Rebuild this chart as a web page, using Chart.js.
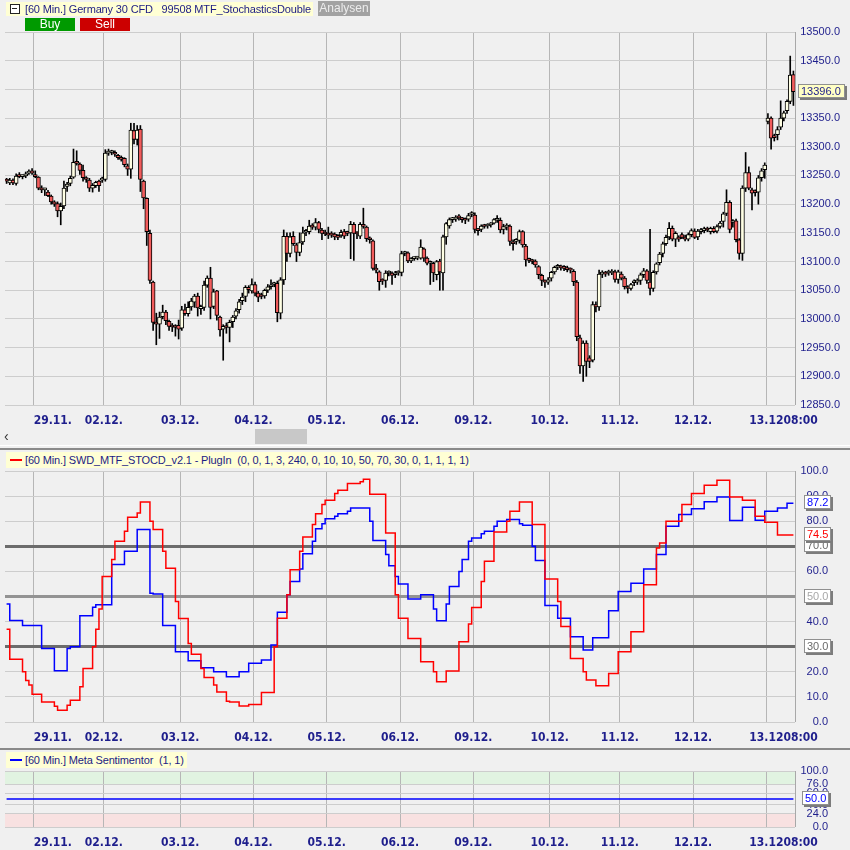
<!DOCTYPE html>
<html>
<head>
<meta charset="utf-8">
<script src="https://cdn.jsdelivr.net/npm/chart.js@4.4.1/dist/chart.umd.min.js"></script>
<style>
  body { margin:0; width:850px; height:850px; background:#f0f0f0; overflow:hidden;
         font-family:"Liberation Sans", Arial, sans-serif; }
  canvas { position:absolute; left:0; }
  .tag { position:absolute; background:#ffffd4; color:#1c1c84; font-size:11px; letter-spacing:-0.15px; white-space:pre; }
  .btn { position:absolute; font-size:12px; text-align:center; color:#fff; }
  .sep { position:absolute; left:0; width:850px; }
</style>
</head>
<body>
<canvas id="priceChart" width="850" height="450" style="top:0"></canvas>
<canvas id="stochChart" width="850" height="300" style="top:450px"></canvas>
<canvas id="metaChart" width="850" height="100" style="top:750px"></canvas>

<!-- header of the price panel -->
<div class="tag" style="left:6px;top:2px;width:307px;height:14px;line-height:14px"></div>
<div style="position:absolute;left:10px;top:4px;width:8px;height:8px;border:1px solid #222;background:#fff"></div>
<div style="position:absolute;left:12px;top:8px;width:5px;height:1px;background:#222"></div>
<div class="tag" style="left:25px;top:2px;height:14px;line-height:14px">[60 Min.] Germany 30 CFD   99508 MTF_StochasticsDouble</div>
<div class="btn" style="left:318px;top:1px;width:52px;height:15px;line-height:15px;background:#a2a2a2;color:#ececec">Analysen</div>
<div class="btn" style="left:25px;top:18px;width:50px;height:13px;line-height:13px;background:#009a00">Buy</div>
<div class="btn" style="left:80px;top:18px;width:50px;height:13px;line-height:13px;background:#cc0000">Sell</div>

<!-- scrollbar + separators -->
<div style="position:absolute;left:4px;top:428px;font-size:14px;color:#333">&#8249;</div>
<div style="position:absolute;left:255px;top:429px;width:52px;height:15px;background:#c8c8c8"></div>
<div class="sep" style="top:445px;height:1px;background:#ffffff"></div>
<div class="sep" style="top:448px;height:2px;background:#8a8a8a"></div>
<div class="sep" style="top:748px;height:2px;background:#8a8a8a"></div>

<!-- header of the stochastic panel -->
<div class="tag" style="left:6px;top:452px;width:464px;height:16px;line-height:16px"></div>
<div style="position:absolute;left:10px;top:459px;width:12px;height:2px;background:#ff0000"></div>
<div class="tag" style="left:25px;top:452px;height:16px;line-height:16px">[60 Min.] SWD_MTF_STOCD_v2.1 - PlugIn  (0, 0, 1, 3, 240, 0, 10, 10, 50, 70, 30, 0, 1, 1, 1, 1)</div>

<!-- header of the sentiment panel -->
<div class="tag" style="left:6px;top:752px;width:181px;height:16px;line-height:16px"></div>
<div style="position:absolute;left:10px;top:759px;width:12px;height:2px;background:#0000ff"></div>
<div class="tag" style="left:25px;top:752px;height:16px;line-height:16px">[60 Min.] Meta Sentimentor  (1, 1)</div>

<script>
// ---- time axis ----
const days = ['28.11.', '29.11.', '02.12.', '03.12.', '04.12.', '05.12.', '06.12.', '09.12.', '10.12.', '11.12.', '12.12.', '13.12.'];
const candlesPerDay = [9, 22, 24, 23, 23, 23, 23, 24, 22, 23, 23, 9];
const lastHourOfDay = [22, 22, 22, 22, 22, 22, 22, 22, 22, 22, 22, 8];
const lastTime = '08:00';

// ---- Germany 30 CFD, 60 min candles ----
const opens = [
  13243,13237,13242,13236,13249,13248,13249,13254,13258,
  13251,13247,13228,13225,13221,13214,13204,13201,13188,13197,13231,13236,13247,13273,13270,13259,13246,13242,13228,13232,13240,13242,
  13243,13289,13290,13290,13285,13281,13280,13267,13261,13328,13313,13331,13240,13210,13149,13064,12994,12991,13004,13012,12996,12987,12987,12989,
  12984,13016,13009,13021,13029,13040,13018,13020,13059,13071,13022,13049,13003,12982,12986,12985,12995,13005,13016,13032,13039,13055,13049,
  13060,13045,13041,13040,13050,13056,13060,13062,13010,13068,13144,13114,13144,13129,13116,13134,13151,13152,13162,13160,13168,13155,13150,
  13149,13148,13148,13144,13146,13152,13150,13150,13165,13150,13144,13165,13160,13140,13136,13088,13082,13067,13067,13080,13080,13077,13080,
  13081,13114,13115,13101,13105,13106,13106,13122,13106,13097,13097,13077,13101,13080,13143,13162,13173,13174,13177,13174,13173,13174,13182,
  13181,13156,13156,13162,13162,13164,13167,13172,13172,13156,13160,13162,13134,13135,13137,13152,13127,13103,13101,13101,13091,13076,13066,13064,
  13071,13082,13090,13091,13090,13087,13086,13083,13064,12967,12918,12958,12932,12928,13025,13021,13078,13080,13080,13080,13082,13069,
  13078,13071,13056,13053,13063,13064,13067,13077,13084,13064,13053,13082,13098,13114,13131,13143,13158,13139,13141,13147,13142,13139,13147,
  13153,13143,13152,13154,13157,13152,13158,13153,13161,13170,13184,13203,13168,13171,13138,13114,13228,13255,13225,13222,13221,13246,13260,
  13344,13350,13319,13321,13334,13350,13363,13379,13426
];
const highs = [
  13245,13245,13244,13253,13255,13251,13256,13260,13262,
  13258,13248,13232,13228,13224,13216,13206,13204,13202,13240,13238,13249,13296,13293,13272,13268,13248,13245,13236,13240,13242,13247,
  13295,13296,13294,13293,13287,13284,13281,13270,13341,13341,13337,13337,13242,13211,13155,13066,13010,13012,13024,13015,12998,12992,12990,12998,
  13022,13026,13030,13036,13043,13045,13024,13066,13075,13090,13052,13050,13005,12990,12993,12998,13006,13018,13034,13045,13058,13058,13070,
  13064,13048,13045,13052,13060,13068,13064,13066,13072,13155,13150,13150,13152,13132,13150,13160,13156,13172,13166,13175,13170,13158,13155,
  13160,13152,13150,13147,13155,13156,13153,13170,13168,13152,13168,13193,13162,13143,13138,13095,13084,13070,13084,13084,13082,13083,13084,
  13118,13118,13117,13107,13108,13109,13138,13124,13108,13101,13099,13102,13104,13146,13168,13176,13177,13180,13182,13177,13176,13184,13187,
  13185,13158,13164,13165,13166,13168,13175,13180,13176,13165,13166,13164,13138,13140,13155,13154,13130,13106,13104,13103,13093,13078,13068,13072,
  13083,13092,13095,13094,13093,13092,13089,13086,13067,12972,12962,12962,12936,13030,13030,13085,13084,13083,13085,13086,13085,13085,
  13082,13074,13058,13062,13068,13070,13080,13088,13086,13156,13084,13098,13116,13134,13146,13168,13162,13152,13145,13150,13146,13150,13157,
  13157,13156,13158,13160,13160,13160,13161,13164,13170,13186,13225,13206,13173,13174,13140,13232,13290,13265,13228,13225,13250,13262,13272,
  13358,13352,13322,13335,13380,13362,13382,13458,13432
];
const lows = [
  13236,13234,13234,13233,13246,13244,13246,13252,13252,
  13246,13225,13220,13215,13213,13200,13196,13178,13164,13192,13222,13232,13245,13268,13252,13240,13238,13222,13221,13229,13222,13238,
  13240,13285,13286,13283,13278,13275,13265,13250,13245,13305,13303,13222,13192,13128,13062,12980,12955,12966,13000,12990,12980,12978,12970,12965,
  12980,13006,13005,13015,13020,13005,13008,13015,13055,13000,13018,12998,12970,12928,12975,12960,12985,13000,13010,13025,13030,13045,13045,
  13040,13030,13035,13036,13046,13052,13056,12995,13000,13060,13100,13108,13128,13100,13110,13130,13145,13148,13156,13155,13150,13138,13145,
  13140,13142,13138,13138,13142,13140,13145,13105,13102,13140,13140,13158,13135,13132,13085,13080,13050,13060,13055,13075,13060,13072,13076,
  13075,13110,13098,13098,13102,13103,13104,13100,13094,13060,13065,13068,13050,13050,13130,13158,13168,13170,13172,13168,13166,13170,13178,
  13150,13146,13152,13158,13158,13160,13165,13168,13150,13148,13155,13128,13120,13130,13132,13125,13092,13098,13096,13090,13070,13058,13055,13060,
  13066,13078,13086,13085,13084,13082,13080,13058,12962,12905,12891,12900,12915,12925,13012,13015,13072,13074,13076,13077,13064,13062,
  13068,13052,13045,13050,13058,13060,13060,13072,13062,13042,13048,13078,13094,13108,13128,13138,13136,13126,13135,13140,13136,13136,13143,
  13140,13138,13148,13150,13152,13148,13150,13150,13158,13160,13180,13150,13160,13134,13104,13102,13222,13225,13190,13214,13200,13240,13245,
  13340,13296,13310,13312,13330,13345,13358,13375,13372
];
const closes = [
  13240,13242,13237,13249,13248,13249,13253,13257,13254,
  13248,13228,13225,13225,13215,13204,13200,13188,13196,13228,13235,13245,13273,13271,13259,13246,13243,13228,13233,13238,13232,13244,
  13289,13290,13291,13287,13281,13278,13269,13261,13329,13313,13329,13243,13211,13152,13067,12994,12991,13003,13012,12997,12987,12986,12985,12982,
  13016,13009,13020,13031,13040,13019,13022,13059,13071,13020,13047,13006,12981,12987,12985,12994,13003,13014,13030,13038,13055,13051,13060,
  13045,13038,13039,13050,13056,13057,13061,13011,13068,13144,13114,13143,13131,13116,13133,13150,13152,13162,13160,13168,13156,13149,13148,
  13146,13146,13143,13142,13151,13144,13149,13165,13149,13148,13165,13161,13140,13138,13088,13085,13065,13066,13080,13081,13076,13080,13081,
  13114,13116,13101,13105,13106,13107,13125,13106,13097,13098,13080,13100,13082,13143,13166,13173,13174,13177,13176,13173,13172,13180,13183,
  13156,13154,13162,13161,13162,13167,13173,13174,13155,13161,13162,13135,13131,13137,13152,13129,13103,13102,13100,13094,13077,13067,13064,13068,
  13081,13090,13092,13089,13088,13086,13085,13065,12969,12918,12958,12926,12926,13025,13021,13078,13080,13078,13081,13082,13069,13082,
  13071,13056,13053,13060,13065,13067,13077,13084,13067,13053,13081,13096,13113,13131,13142,13158,13139,13149,13139,13142,13139,13147,13154,
  13142,13153,13155,13157,13155,13158,13152,13161,13167,13183,13203,13156,13171,13138,13114,13228,13255,13228,13219,13220,13246,13258,13268,
  13350,13315,13316,13330,13350,13359,13379,13425,13396
];
const priceTicks = [12850,12900,12950,13000,13050,13100,13150,13200,13250,13300,13350,13400,13450,13500];

// ---- SWD_MTF_STOCD: [candle index where the step starts, value] ----
const stochRed = [[0,37],[1,25],[5,20],[6,16.5],[7,14.7],[8,11.1],[11,8],[15,6.3],[16,4.7],[19,6.7],[20,8.7],[23,14],[24,21.3],
  [27,30],[28,37],[29,45],[30,58],[33,64.7],[34,72],[37,76],[38,81.6],[41,83.3],[42,87.6],[45,80],[46,76.7],[49,68],[50,61.3],
  [53,48],[54,41.2],[57,31.3],[58,27],[61,21.3],[62,17.7],[65,14.7],[66,12],[69,8.3],[70,8],[73,6.4],[76,7],[80,11.8],
  [84,30],[85,41.3],[88,50.7],[89,60.7],[92,68],[93,73.7],[96,78.7],[97,83],[99,86.7],[100,88.3],[103,91],[104,92.3],[107,95],
  [111,95.7],[112,96.7],[114,90.7],[119,75.3],[122,50.7],[123,41.3],[126,33.3],[130,24],[134,20],[135,16],[138,20.3],[142,32],
  [145,39],[146,45.6],[149,56],[150,64],[153,75.7],[157,80],[158,84],[161,87.6],[165,78.7],[169,57],[173,48],[174,38],[177,25.3],
  [181,20],[182,16.7],[185,14.4],[189,19.3],[192,28],[196,36],[200,54.7],[204,69.3],[205,71.3],[207,80],[212,86.7],[215,91],
  [219,94.3],[223,96.3],[227,89.6],[231,88.3],[235,82],[238,79.6],[242,74.5],[247,74.5]];
const stochBlue = [[0,47],[1,40.4],[5,38.4],[11,29.3],[15,20.4],[19,29.3],[20,30],[23,42.3],[27,45.7],[28,46.7],[33,62.7],[37,68],
  [41,76.7],[45,51.3],[46,51],[49,38.4],[53,28],[57,24.4],[61,21.6],[65,20],[69,18],[73,20],[76,23.4],[80,24.7],[83,30.7],[85,43.7],
  [88,50.7],[89,56],[92,61],[93,67],[96,72],[97,77],[99,79],[100,81],[103,82],[104,83],[107,84],[108,85.3],[114,80],[115,72.3],
  [119,66.7],[120,62.3],[122,58],[123,55],[126,49],[130,50.7],[134,45],[135,40.3],[138,47],[139,54],[142,60],[143,64.7],[145,72],
  [146,73.3],[149,75],[150,76],[153,78],[154,80],[157,80.7],[161,79],[162,78.4],[165,70],[166,64.3],[169,46.4],[173,41.3],[177,34],
  [181,28.7],[184,33.6],[189,44.3],[192,52],[196,55.3],[200,61],[204,66.7],[207,78],[211,82.7],[215,85],[219,87.7],[223,89.6],
  [227,80.3],[231,85.6],[235,80.4],[238,84],[242,85.3],[245,87.2],[247,87.2]];
const stochTicks = [0,10,20,30,40,50,60,70,80,90,100];
const stochLevels = [30, 50, 70];

// ---- Meta Sentimentor ----
const sentiment = [[0,50],[247,50]];
const metaTicks = [0,24,40,60,76,100];
const metaBands = [[76,100,'#e1f3e1'],[0,24,'#f8e1e1']];

// build the hourly categories
const labels = [], dayStarts = [];
days.forEach((d, k) => {
  dayStarts.push(labels.length);
  for (let j = 0; j < candlesPerDay[k]; j++) {
    const h = (lastHourOfDay[k] - (candlesPerDay[k] - 1 - j) + 24) % 24;
    labels.push(d + ' ' + String(h).padStart(2, '0') + ':00');
  }
});
const N = labels.length;
if ([opens, highs, lows, closes].some(a => a.length !== N)) {
  throw new Error('length mismatch ' + [opens.length, highs.length, lows.length, closes.length, N]);
}

const NAVY = '#1e1e8c';
const FONT_Y = '11px "Liberation Sans", Arial, sans-serif';
const FONT_X = 'bold 12px "Liberation Sans Narrow", "DejaVu Sans Condensed", sans-serif';

function xScale() {
  return {
    type: 'linear', min: -0.5, max: N - 0.5, offset: false,
    afterBuildTicks: s => { s.ticks = dayStarts.slice(1).map(v => ({value: v - 0.5})); },
    ticks: {display: false},
    grid: {color: '#b6b6b6', drawTicks: false, offset: false},
    border: {display: false}
  };
}

function yScale(min, max, values, gridOpts) {
  return {
    type: 'linear', position: 'right', min: min, max: max, beginAtZero: false,
    afterBuildTicks: s => { s.ticks = values.map(v => ({value: v})); },
    ticks: {display: false},
    grid: Object.assign({color: '#cdcdcd', drawTicks: false}, gridOpts || {}),
    border: {display: false}
  };
}

function drawDayLabels(chart, yPos) {
  const ctx = chart.ctx, xs = chart.scales.x;
  ctx.save();
  ctx.font = FONT_X; ctx.fillStyle = NAVY; ctx.textBaseline = 'middle';
  for (let d = 1; d < days.length; d++) {
    const px = xs.getPixelForValue(dayStarts[d] - 0.5);
    if (d === 1) {
      ctx.textAlign = 'left'; ctx.fillText(days[d], px, yPos);
    } else if (d === days.length - 1) {
      const t = days[d].slice(0, -1);
      ctx.textAlign = 'center'; ctx.fillText(t, px, yPos);
      ctx.textAlign = 'left'; ctx.fillText(lastTime, px + ctx.measureText(t).width / 2, yPos);
    } else {
      ctx.textAlign = 'center'; ctx.fillText(days[d], px, yPos);
    }
  }
  ctx.restore();
}

function drawYLabels(chart, values, xRight) {
  const ctx = chart.ctx, ys = chart.scales.y;
  ctx.save();
  ctx.font = FONT_Y; ctx.fillStyle = NAVY; ctx.textAlign = 'right'; ctx.textBaseline = 'middle';
  values.forEach(v => ctx.fillText(v.toFixed(1), xRight, ys.getPixelForValue(v)));
  ctx.restore();
}

function drawBox(chart, xLeft, value, textColor, fill, minW) {
  const ctx = chart.ctx, y = chart.scales.y.getPixelForValue(value);
  const text = value.toFixed(1);
  ctx.save();
  ctx.font = FONT_Y;
  const w = Math.max(minW || 0, Math.round(ctx.measureText(text).width) + 6), h = 14, top = Math.round(y - 8);
  ctx.fillStyle = '#7c7c7c'; ctx.fillRect(xLeft + 2, top + 2, w, h);
  ctx.fillStyle = fill; ctx.fillRect(xLeft, top, w, h);
  ctx.strokeStyle = '#909090'; ctx.lineWidth = 1; ctx.strokeRect(xLeft + 0.5, top + 0.5, w - 1, h - 1);
  ctx.fillStyle = textColor; ctx.textAlign = 'left'; ctx.textBaseline = 'middle';
  ctx.fillText(text, xLeft + 3, top + h / 2 + 0.5);
  ctx.restore();
}

function drawRightBorder(chart) {
  const ctx = chart.ctx, a = chart.chartArea;
  ctx.save();
  ctx.strokeStyle = '#a8a8a8'; ctx.lineWidth = 1;
  ctx.beginPath(); ctx.moveTo(a.right + 0.5, a.top); ctx.lineTo(a.right + 0.5, a.bottom); ctx.stroke();
  ctx.restore();
}

const common = pad => ({
  responsive: false, animation: false, events: [],
  layout: {padding: pad},
  plugins: {legend: {display: false}, tooltip: {enabled: false}}
});

// ---- price panel ----
new Chart(document.getElementById('priceChart'), {
  type: 'bar',
  data: {
    datasets: [
      {
        data: opens.map((o, i) => ({x: i, y: [o, closes[i]]})),
        backgroundColor: opens.map((o, i) => closes[i] >= o ? '#ffffe4' : '#f25c5c'),
        borderColor: '#000000', borderWidth: 1, borderSkipped: false,
        barThickness: 4, minBarLength: 2, grouped: false
      },
      {
        data: lows.map((l, i) => ({x: i, y: [l, highs[i]]})),
        backgroundColor: '#000000', borderWidth: 0,
        barThickness: 1, grouped: false
      }
    ]
  },
  options: Object.assign(common({left: 5, right: 55, top: 32, bottom: 45}), {
    scales: {x: xScale(), y: yScale(12850, 13500, priceTicks)}
  }),
  plugins: [{
    id: 'priceText',
    afterDraw(chart) {
      drawRightBorder(chart);
      drawYLabels(chart, priceTicks, 840);
      drawDayLabels(chart, 421);
      drawBox(chart, 798, closes[N - 1], NAVY, '#ffffc4', 47);
    }
  }]
});

// ---- stochastic panel ----
new Chart(document.getElementById('stochChart'), {
  type: 'line',
  data: {
    datasets: [
      {data: stochRed.map(([i, v]) => ({x: i, y: v})), borderColor: '#ff0000', borderWidth: 1.5,
       pointRadius: 0, stepped: true, fill: false},
      {data: stochBlue.map(([i, v]) => ({x: i, y: v})), borderColor: '#0000ff', borderWidth: 1.5,
       pointRadius: 0, stepped: true, fill: false}
    ]
  },
  options: Object.assign(common({left: 5, right: 55, top: 21, bottom: 28}), {
    scales: {
      x: xScale(),
      y: yScale(0, 100, stochTicks, {
        color: c => c.tick.value === 50 ? '#939393' : stochLevels.includes(c.tick.value) ? '#6c6c6c' : '#cdcdcd',
        lineWidth: c => stochLevels.includes(c.tick.value) ? 3 : 1
      })
    }
  }),
  plugins: [{
    id: 'stochText',
    afterDraw(chart) {
      drawRightBorder(chart);
      drawYLabels(chart, stochTicks, 828);
      drawDayLabels(chart, 288);
      drawBox(chart, 804, 70, '#6a6a6a', '#ffffff', 25);
      drawBox(chart, 804, 50, '#a8a8a8', '#ffffff', 25);
      drawBox(chart, 804, 30, '#6a6a6a', '#ffffff', 25);
      drawBox(chart, 804, stochBlue[stochBlue.length - 1][1], '#0000ff', '#ffffff', 25);
      drawBox(chart, 804, stochRed[stochRed.length - 1][1], '#ff0000', '#ffffff', 25);
    }
  }]
});

// ---- sentiment panel ----
new Chart(document.getElementById('metaChart'), {
  type: 'line',
  data: {
    datasets: [{data: sentiment.map(([i, v]) => ({x: i, y: v})), borderColor: '#0000ff', borderWidth: 1.5,
                pointRadius: 0, fill: false}]
  },
  options: Object.assign(common({left: 5, right: 55, top: 21, bottom: 23}), {
    scales: {x: xScale(), y: yScale(0, 100, metaTicks)}
  }),
  plugins: [{
    id: 'metaText',
    beforeDraw(chart) {
      const ctx = chart.ctx, a = chart.chartArea, ys = chart.scales.y;
      metaBands.forEach(([lo, hi, col]) => {
        const y1 = ys.getPixelForValue(hi), y2 = ys.getPixelForValue(lo);
        ctx.fillStyle = col; ctx.fillRect(a.left, y1, a.right - a.left, y2 - y1);
      });
    },
    afterDraw(chart) {
      drawRightBorder(chart);
      drawYLabels(chart, metaTicks, 828);
      drawDayLabels(chart, 93);
      drawBox(chart, 802, sentiment[sentiment.length - 1][1], '#0000ff', '#ffffff', 25);
    }
  }]
});
</script>
</body>
</html>
